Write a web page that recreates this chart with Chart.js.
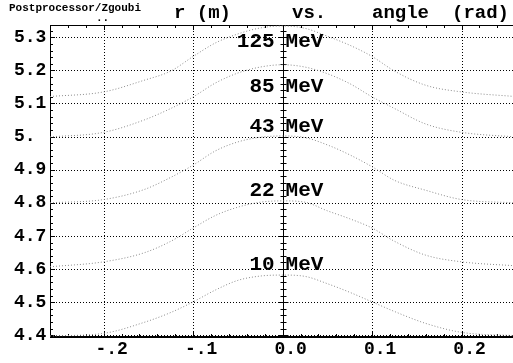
<!DOCTYPE html>
<html>
<head>
<meta charset="utf-8">
<script src="https://cdn.jsdelivr.net/npm/chart.js@4"></script>
<style>
  body { margin: 0; background: #fff; }
  #wrap { width: 513px; height: 363px; }
</style>
</head>
<body>
<div id="wrap"><canvas id="myChart"></canvas></div>
<script>
// angle (rad) sample points and radius (m) for each energy
var angles = [-0.26, -0.2, -0.155, -0.125, -0.1, -0.075, -0.05, -0.025, 0, 0.025, 0.05, 0.075, 0.1, 0.125, 0.16, 0.2, 0.26];
var r125 = [5.121, 5.135, 5.170, 5.198, 5.242, 5.283, 5.310, 5.328, 5.334, 5.327, 5.303, 5.276, 5.242, 5.198, 5.155, 5.135, 5.121];
var r85  = [4.999, 5.013, 5.050, 5.085, 5.120, 5.162, 5.192, 5.210, 5.217, 5.210, 5.190, 5.160, 5.120, 5.085, 5.038, 5.013, 4.999];
var r43  = [4.800, 4.810, 4.840, 4.877, 4.914, 4.957, 4.984, 4.998, 5.002, 4.997, 4.975, 4.945, 4.909, 4.868, 4.838, 4.810, 4.800];
var r22  = [4.607, 4.622, 4.649, 4.684, 4.724, 4.762, 4.787, 4.802, 4.806, 4.802, 4.776, 4.752, 4.724, 4.684, 4.642, 4.622, 4.610];
var r10  = [4.398, 4.406, 4.439, 4.469, 4.501, 4.537, 4.566, 4.579, 4.582, 4.578, 4.556, 4.530, 4.501, 4.472, 4.436, 4.409, 4.399];

var energies = ['125', '85', '43', '22', '10'];
var labelR = [5.287, 5.152, 5.031, 4.836, 4.613];

var xTicks = [-0.2, -0.1, 0, 0.1, 0.2];
var xTickLabels = ['-.2', '-.1', '0.0', '0.1', '0.2'];
var yTicks = [4.4, 4.5, 4.6, 4.7, 4.8, 4.9, 5.0, 5.1, 5.2, 5.3];
var yTickLabels = ['4.4', '4.5', '4.6', '4.7', '4.8', '4.9', '5.', '5.1', '5.2', '5.3'];

var MONO = '"Liberation Mono", "DejaVu Sans Mono", monospace';

function pts(ys) {
    return angles.map(function (a, i) { return { x: a, y: ys[i] }; });
}

function curve(ys) {
    return {
        data: pts(ys),
        showLine: true,
        borderColor: '#8a8a8a',
        borderWidth: 1,
        borderDash: [1, 2],
        pointRadius: 0,
        cubicInterpolationMode: 'monotone'
    };
}

// frame, dotted grid, minor ticks and the solid axis through angle = 0
var gridPlugin = {
    id: 'zgGrid',
    beforeDatasetsDraw: function (chart) {
        var ctx = chart.ctx, a = chart.chartArea;
        var xs = chart.scales.x, ys = chart.scales.y;
        ctx.save();
        ctx.lineWidth = 1;
        ctx.strokeStyle = '#000';
        ctx.setLineDash([1, 2]);
        xTicks.forEach(function (v) {
            if (v === 0) return;
            var px = Math.round(xs.getPixelForValue(v)) + 0.5;
            ctx.beginPath(); ctx.moveTo(px, a.top); ctx.lineTo(px, a.bottom); ctx.stroke();
        });
        yTicks.forEach(function (v) {
            var py = Math.round(ys.getPixelForValue(v)) + 0.5;
            ctx.beginPath(); ctx.moveTo(a.left, py); ctx.lineTo(a.right, py); ctx.stroke();
        });
        ctx.setLineDash([]);

        // frame
        ctx.beginPath();
        ctx.moveTo(a.left + 0.5, a.top); ctx.lineTo(a.left + 0.5, a.bottom);
        ctx.moveTo(a.left, a.top + 0.5); ctx.lineTo(a.right, a.top + 0.5);
        ctx.stroke();
        ctx.lineWidth = 2;
        ctx.beginPath();
        ctx.moveTo(a.left, a.bottom); ctx.lineTo(a.right, a.bottom);
        ctx.stroke();
        ctx.lineWidth = 1;

        // axis at zero
        var x0 = Math.round(xs.getPixelForValue(0)) + 0.5;
        ctx.beginPath(); ctx.moveTo(x0, a.top); ctx.lineTo(x0, a.bottom); ctx.stroke();

        ctx.beginPath();
        var v, k, px, py, len;
        for (k = Math.ceil(xs.min / 0.02); k * 0.02 <= xs.max; k++) {
            v = k * 0.02;
            px = Math.round(xs.getPixelForValue(v)) + 0.5;
            len = (k % 5 === 0) ? 5 : 3;
            ctx.moveTo(px, a.top); ctx.lineTo(px, a.top + len);
            ctx.moveTo(px, a.bottom); ctx.lineTo(px, a.bottom - len);
        }
        for (k = Math.ceil(ys.min / 0.02 - 1e-6); k * 0.02 <= ys.max; k++) {
            v = k * 0.02;
            py = Math.round(ys.getPixelForValue(v)) + 0.5;
            len = (k % 5 === 0) ? 5 : 3;
            ctx.moveTo(a.left, py); ctx.lineTo(a.left + len, py);
            ctx.moveTo(x0 - len, py); ctx.lineTo(x0 + len, py);
        }
        ctx.stroke();
        ctx.restore();
    },
    afterDraw: function (chart) {
        var ctx = chart.ctx;
        var xs = chart.scales.x, ys = chart.scales.y;
        var x0 = xs.getPixelForValue(0);
        ctx.save();
        ctx.fillStyle = '#000';
        ctx.textBaseline = 'middle';
        ctx.font = 'bold 21px ' + MONO;
        energies.forEach(function (e, i) {
            var py = ys.getPixelForValue(labelR[i]);
            ctx.textAlign = 'right';
            ctx.fillText(e, x0 - 8, py);
            ctx.textAlign = 'left';
            ctx.fillText('MeV', x0 + 3, py);
        });

        ctx.textBaseline = 'alphabetic';
        ctx.textAlign = 'left';
        ctx.font = 'bold 19px ' + MONO;
        ctx.fillText('r (m)', 174, 18);
        ctx.fillText('vs.', 292, 18);
        ctx.fillText('angle', 372, 18);
        ctx.fillText('(rad)', 452, 18);

        ctx.font = 'bold 11px ' + MONO;
        ctx.fillText('Postprocessor/Zgoubi', 9, 11);
        ctx.fillText('..', 96, 21);
        ctx.restore();
    }
};

new Chart(document.getElementById('myChart'), {
    type: 'scatter',
    data: {
        datasets: [curve(r125), curve(r85), curve(r43), curve(r22), curve(r10)]
    },
    options: {
        responsive: true,
        maintainAspectRatio: false,
        animation: false,
        layout: { padding: { top: 25, left: 14, right: 0, bottom: 0 } },
        plugins: { legend: { display: false }, tooltip: { enabled: false } },
        scales: {
            x: {
                type: 'linear',
                min: -0.26,
                max: 0.2575,
                grid: { display: false, drawTicks: false },
                border: { display: false },
                afterFit: function (s) { s.height = 26; },
                afterBuildTicks: function (s) { s.ticks = xTicks.map(function (v) { return { value: v }; }); },
                ticks: {
                    padding: 2,
                    labelOffset: 8,
                    color: '#000',
                    maxRotation: 0,
                    autoSkip: false,
                    font: { family: MONO, size: 18, weight: 'bold' },
                    callback: function (v) { return xTickLabels[xTicks.indexOf(v)]; }
                }
            },
            y: {
                min: 4.395,
                max: 5.337,
                grid: { display: false, drawTicks: false },
                border: { display: false },
                afterFit: function (s) { s.width = 36; },
                afterBuildTicks: function (s) { s.ticks = yTicks.map(function (v) { return { value: v }; }); },
                ticks: {
                    crossAlign: 'far',
                    padding: 3,
                    color: '#000',
                    autoSkip: false,
                    font: { family: MONO, size: 18, weight: 'bold' },
                    callback: function (v) {
                        var i = yTicks.findIndex(function (t) { return Math.abs(t - v) < 1e-9; });
                        return yTickLabels[i];
                    }
                }
            }
        }
    },
    plugins: [gridPlugin]
});
</script>
</body>
</html>
